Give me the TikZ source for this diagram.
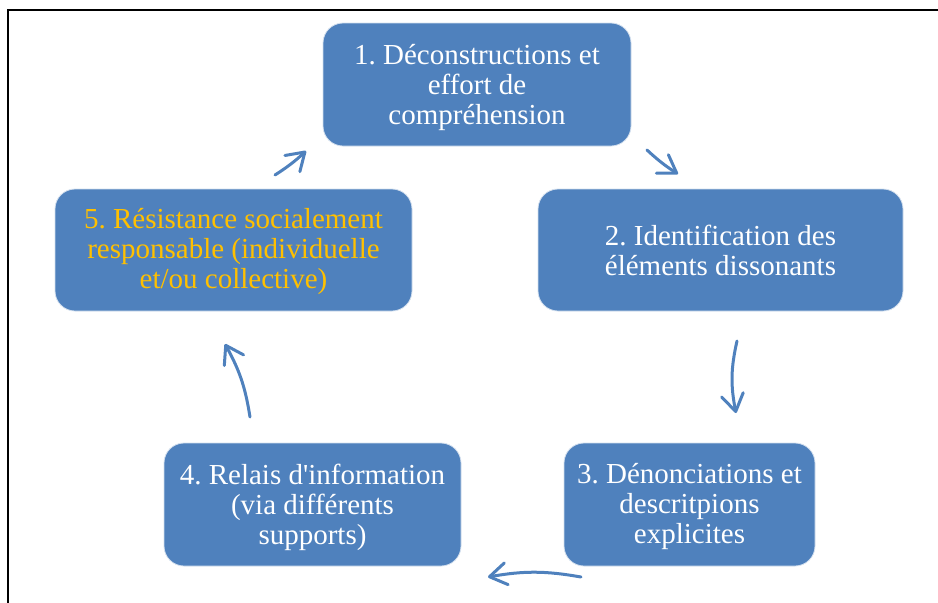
\documentclass[tikz,border=0pt]{standalone}
\usepackage{fontspec}
\setmainfont{Liberation Serif}
\usetikzlibrary{arrows.meta}
\definecolor{boxblue}{HTML}{4F81BD}
\definecolor{gold}{HTML}{FFC000}
\frenchspacing
\tikzset{
  stepbox/.style={rectangle, rounded corners=20pt, fill=boxblue, draw=white!75!boxblue, line width=0.8pt},
  boxtext/.style={text=white, align=center, inner sep=0pt, font=\fontsize{29}{30}\selectfont},
  cyclearrow/.style={draw=boxblue, line width=3pt, line cap=round,
    -{Straight Barb[length=17pt,width=22pt,round]}},
}
\begin{document}
\begin{tikzpicture}[x=1pt,y=-1pt]
\useasboundingbox (0,0) rectangle (938,603);
\draw[line width=2pt] (8.3,604) -- (8.3,10) -- (940,10);

\node[stepbox, minimum width=308pt, minimum height=123pt] (b1) at (477,84.5) {};
\node[stepbox, minimum width=365pt, minimum height=122pt] (b2) at (720.5,250) {};
\node[stepbox, minimum width=251pt, minimum height=123pt] (b3) at (689.5,504.5) {};
\node[stepbox, minimum width=297pt, minimum height=123pt] (b4) at (312.5,504.5) {};
\node[stepbox, minimum width=357pt, minimum height=122pt] (b5) at (233.5,250) {};

\node[boxtext] (t1) at ([yshift=-3pt]b1.center)
  {1. Déconstructions et\\effort de\\compréhension};
\node[boxtext] (t2) at ([yshift=-0.5pt]b2.center)
  {2. Identification des\\éléments dissonants};
\node[boxtext] (t3) at ([yshift=-2pt]b3.center)
  {3. Dénonciations et\\descritpions\\explicites};
\node[boxtext] (t4) at ([yshift=-3pt]b4.center)
  {4. Relais d\textquotesingle information\\(via différents\\supports)};
\node[boxtext, text=gold] (t5) at ([yshift=-1pt]b5.center)
  {5. Résistance socialement\\responsable (individuelle\\et/ou collective)};

\coordinate (a51s) at (275,175);
\coordinate (a51e) at (306,151);
\coordinate (a12s) at (647,150);
\coordinate (a12e) at (678,174);
\coordinate (a23s) at (737,341);
\coordinate (a23e) at (736,413);
\coordinate (a34s) at (581,577);
\coordinate (a34e) at (488,577);
\coordinate (a45s) at (250,417);
\coordinate (a45e) at (225,344);

\draw[cyclearrow] (a51s) to[bend right=5] (a51e);
\draw[cyclearrow] (a12s) to[bend right=5] (a12e);
\draw[cyclearrow] (a23s) to[bend right=12] (a23e);
\draw[cyclearrow] (a34s) to[bend right=10] (a34e);
\draw[cyclearrow] (a45s) to[bend right=10] (a45e);
\end{tikzpicture}
\end{document}
